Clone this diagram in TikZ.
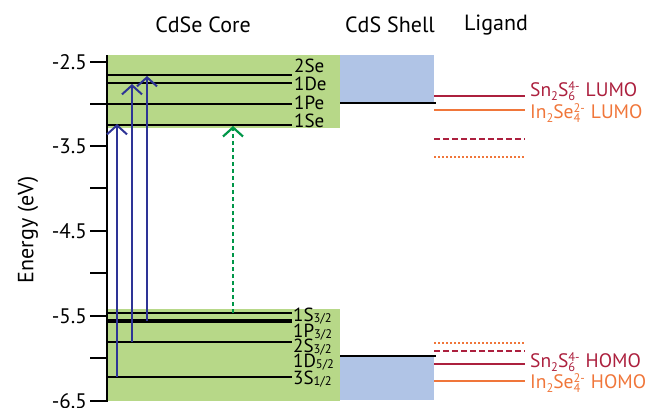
\documentclass[tikz,border=0pt]{standalone}
\usepackage{fontspec}
\setmainfont{PT Sans}
\usetikzlibrary{arrows.meta}

\definecolor{coregreen}{RGB}{183,216,136}
\definecolor{shellblue}{RGB}{176,196,230}
\definecolor{snred}{RGB}{172,32,62}
\definecolor{inorange}{RGB}{240,118,58}
\definecolor{arrblue}{RGB}{46,52,150}
\definecolor{arrgreen}{RGB}{0,150,72}

% stacked sub- and superscript, superscript is the wider one
\newcommand{\subsup}[2]{{\fontsize{12.5}{12.5}\selectfont\rlap{\raisebox{1.0ex}{#2}}\rlap{\raisebox{-0.6ex}{#1}}\hphantom{#2}}}
\newcommand{\lsub}[1]{\raisebox{-0.15ex}{\fontsize{12.5}{12.5}\selectfont #1}}
\newcommand{\ssub}[1]{\raisebox{-0.45ex}{\fontsize{12.5}{12.5}\selectfont #1}}

\tikzset{
  level/.style={line width=1.4pt},
  lvllab/.style={anchor=west, inner sep=0pt, font=\fontsize{19}{19}\selectfont},
  ticklab/.style={anchor=east, inner sep=0pt, font=\fontsize{21}{21}\selectfont},
  head/.style={inner sep=0pt, font=\fontsize{22}{22}\selectfont},
  liglab/.style={anchor=west, inner sep=0pt, font=\fontsize{19.5}{19.5}\selectfont},
  excite/.style={arrblue, line width=1.7pt, -{Straight Barb[length=9pt,width=20pt,line width=2pt]}},
  trap/.style={arrgreen, line width=2pt, dash pattern=on 4pt off 3pt, -{Straight Barb[length=9pt,width=20pt,line width=2.2pt]}},
  dotlev/.style={inorange, line width=1.6pt, dash pattern=on 1.8pt off 2.2pt},
  dashlev/.style={snred, line width=2pt, dash pattern=on 6pt off 3pt},
}

\begin{document}
\begin{tikzpicture}[x=1pt,y=-1pt]
  \useasboundingbox (0,0) rectangle (655,407);
  % bands
  \fill[coregreen] (107,55) rectangle (340,128);
  \fill[coregreen] (107,309) rectangle (340,401);
  \fill[shellblue] (340,55) rectangle (434,103);
  \fill[shellblue] (340,357) rectangle (434,400);

  % headings
  \node[head] (core) at (203,25) {CdSe Core};
  \node[head] (shell) at (390,25) {CdS Shell};
  \node[head] (lig) at (496,25) {Ligand};

  % axis
  \draw[line width=1.4pt] (107,55) -- (107,402);
  \foreach \y/\l [count=\i] in {62/-2.5,146/-3.5,231/-4.5,316/-5.5,401/-6.5} {
    \draw[line width=1.3pt] (90,\y) -- (107,\y);
    \node[ticklab] (tick\i) at (87,\y) {\l};
  }
  \foreach \y in {188,273,358}
    \draw[line width=1.3pt] (90,\y) -- (107,\y);
  \node[rotate=90, font=\fontsize{22}{22}\selectfont] (elabel) at (28,230) {Energy (eV)};

  % conduction levels
  \draw[level] (107,75) -- (292,75) coordinate (se2);
  \draw[level] (107,83) -- (292,83) coordinate (de1);
  \draw[level] (90,104) -- (292,104) coordinate (pe1);
  \draw[level] (107,125) -- (292,125) coordinate (se1);
  \draw[level] (340,103) -- (436,103);
  \node[lvllab] (l2se) at (294,66) {2Se};
  \node[lvllab] (l1de) at (294,84) {1De};
  \node[lvllab] (l1pe) at (294,103) {1Pe};
  \node[lvllab] (l1se) at (294,121) {1Se};

  % valence levels
  \draw[level] (107,313) -- (292,313);
  \draw[line width=4pt] (107,321) -- (292,321);
  \draw[level] (107,342) -- (292,342);
  \draw[level] (107,377) -- (292,377);
  \draw[level] (340,356) -- (436,356);
  \node[lvllab] (l1s) at (293,316) {1S\lsub{3/2}};
  \node[lvllab] (l1p) at (293,332) {1P\lsub{3/2}};
  \node[lvllab] (l2s) at (293,347) {2S\lsub{3/2}};
  \node[lvllab] (l1d) at (293,362) {1D\lsub{5/2}};
  \node[lvllab] (l3s) at (293,379) {3S\lsub{1/2}};

  % transitions
  \coordinate (a1s) at (117,377);  \coordinate (a1e) at (117,124);
  \coordinate (a2s) at (132,342);  \coordinate (a2e) at (132,84);
  \coordinate (a3s) at (147,321);  \coordinate (a3e) at (147,76);
  \coordinate (gs) at (233,313);   \coordinate (ge) at (233,126);
  \draw[excite] (a1s) -- (a1e);
  \draw[excite] (a2s) -- (a2e);
  \draw[excite] (a3s) -- (a3e);
  \draw[trap] (gs) -- (ge);

  % ligand levels
  \draw[snred, line width=2pt] (434,96) -- (525,96);
  \draw[inorange, line width=2pt] (434,110) -- (525,110);
  \draw[dashlev] (434,139) -- (525,139);
  \draw[dotlev] (434,157) -- (525,157);
  \draw[dotlev] (434,343) -- (525,343);
  \draw[dashlev] (434,351) -- (525,351);
  \draw[snred, line width=2pt] (434,364) -- (525,364);
  \draw[inorange, line width=2pt] (434,381) -- (525,381);
  \node[liglab, text=snred] (snlumo) at (530,91) {Sn\ssub{2}S\subsup{6}{4-}\hspace{6pt}LUMO};
  \node[liglab, text=inorange] (inlumo) at (530,113) {In\ssub{2}Se\subsup{4}{2-}\hspace{6pt}LUMO};
  \node[liglab, text=snred] (snhomo) at (530,362) {Sn\ssub{2}S\subsup{6}{4-}\hspace{6pt}HOMO};
  \node[liglab, text=inorange] (inhomo) at (530,383) {In\ssub{2}Se\subsup{4}{2-}\hspace{6pt}HOMO};
\end{tikzpicture}
\end{document}
